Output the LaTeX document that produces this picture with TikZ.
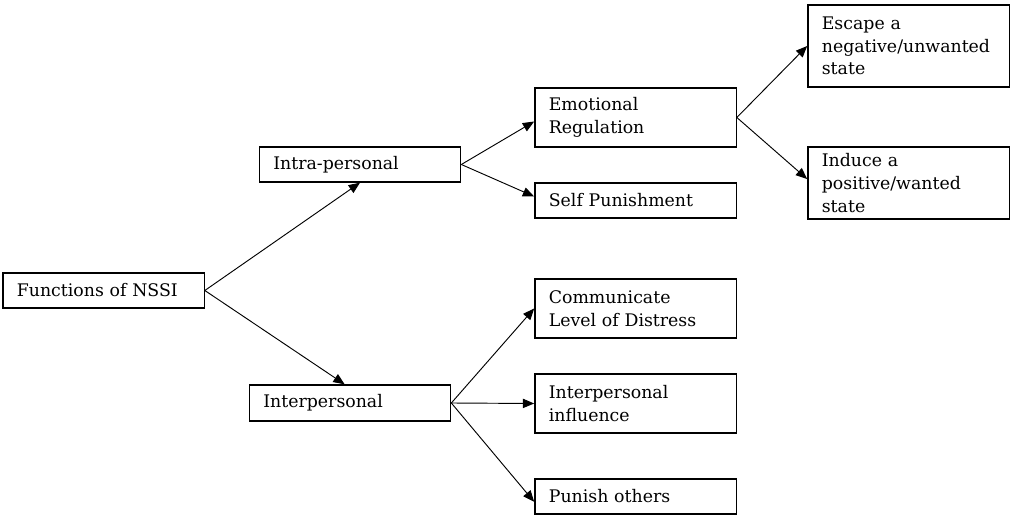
\documentclass[tikz,border=0pt]{standalone}
\usepackage{fontspec}
\setmainfont{DejaVu Serif}
\usetikzlibrary{arrows.meta}
\begin{document}
\begin{tikzpicture}[x=0.75pt,y=-0.75pt,
  box/.style={draw, line width=1pt, inner xsep=10.5pt, inner ysep=0pt,
    text width=130pt, align=left, minimum width=150.75pt,
    font=\fontsize{13pt}{17pt}\selectfont},
  conn/.style={line width=0.7pt, -{Triangle[length=8.5pt,width=7pt]}}]
\useasboundingbox (0,0) rectangle (1010,516);
\node[box, minimum height=26.25pt] (fun) at (103.5,290.5) {Functions of NSSI};
\node[box, minimum height=26.25pt] (intra) at (360,164.5) {Intra-personal};
\node[box, minimum height=27pt] (inter) at (350,403) {Interpersonal};
\node[box, minimum height=44.25pt] (emo) at (635.5,117.5) {Emotional\\Regulation};
\node[box, minimum height=26.25pt] (selfp) at (635.5,200.5) {Self Punishment};
\node[box, minimum height=61.5pt] (esc) at (908.5,46) {Escape a\\negative/unwanted\\state};
\node[box, minimum height=54pt] (ind) at (908.5,183) {Induce a\\positive/wanted\\state};
\node[box, minimum height=44.25pt] (comm) at (635.5,308.5) {Communicate\\Level of Distress};
\node[box, minimum height=44.25pt] (infl) at (635.5,403.5) {Interpersonal\\influence};
\node[box, minimum height=26.25pt] (puni) at (635.5,496.5) {Punish others};
\draw[conn] (fun.east) -- (intra.south);
\draw[conn] (fun.east) -- ([xshift=-4pt]inter.north);
\draw[conn] (intra.east) -- ([yshift=-3pt]emo.west);
\draw[conn] (intra.east) -- ([yshift=3pt]selfp.west);
\draw[conn] (emo.east) -- (esc.west);
\draw[conn] (emo.east) -- ([yshift=3pt]ind.west);
\draw[conn] (inter.east) -- (comm.west);
\draw[conn] (inter.east) -- (infl.west);
\draw[conn] (inter.east) -- ([yshift=-4pt]puni.west);
\end{tikzpicture}
\end{document}
